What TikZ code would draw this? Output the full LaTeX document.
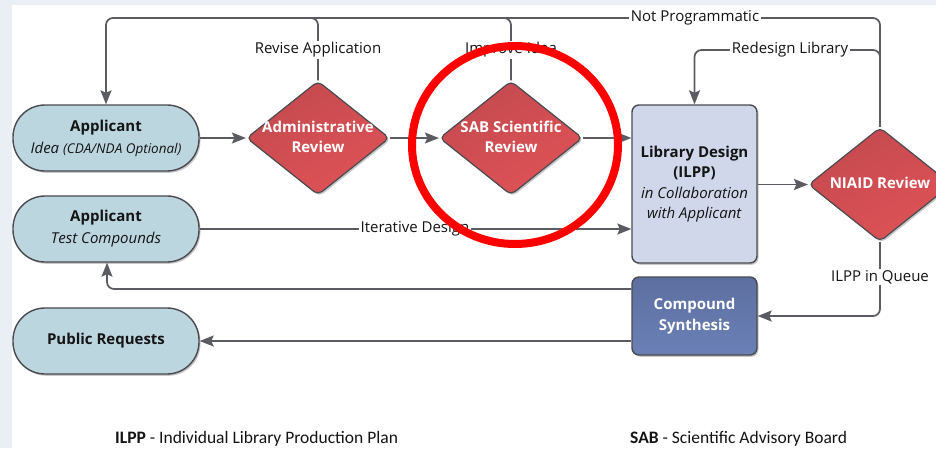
\documentclass[tikz,border=0pt]{standalone}
\usepackage{fontspec}
\setmainfont{Open Sans}
\newfontfamily\legendfont{Carlito}
\usetikzlibrary{shapes.geometric,arrows.meta,shadows,calc}

\definecolor{pagebg}{HTML}{EAEFF6}
\definecolor{linec}{HTML}{5B5B63}
\definecolor{borderc}{HTML}{4A4A50}
\definecolor{txtc}{HTML}{141414}
\definecolor{appfill}{HTML}{BCD6E0}
\definecolor{dfillA}{HTML}{C44A4F}
\definecolor{dfillB}{HTML}{DE5256}
\definecolor{libfill}{HTML}{D1D7EA}
\definecolor{synA}{HTML}{5D6FA0}
\definecolor{synB}{HTML}{6A80B6}
\definecolor{markred}{HTML}{FF0000}

% centred multi-line text that does not widen the shape around it
\newcommand{\flattxt}[1]{\makebox[0pt]{\begin{tabular}{@{}c@{}}#1\end{tabular}}}

\tikzset{
  conn/.style={draw=linec, line width=1.7pt, rounded corners=7pt},
  arr/.style={conn, -{Stealth[length=14pt,width=11pt,inset=2.5pt]}},
  shade/.style={drop shadow={shadow xshift=1.5pt, shadow yshift=-1.8pt, opacity=0.22, fill=black}},
  appbox/.style={shade, draw=borderc, line width=1.4pt, fill=appfill,
    rounded corners=32pt, minimum width=186pt, minimum height=66pt,
    align=center, text=txtc, inner sep=0pt, font=\fontsize{15}{22}\selectfont},
  decision/.style={shade, diamond, draw=borderc, line width=1.2pt,
    left color=dfillA, right color=dfillB, shading angle=30,
    minimum width=143pt, minimum height=114pt, rounded corners=5pt,
    inner sep=0pt, text=white, font=\bfseries\fontsize{15}{20}\selectfont},
  process/.style={shade, draw=borderc, line width=1.4pt, rounded corners=7pt,
    minimum width=125pt, align=center, inner sep=0pt},
  lbl/.style={fill=white, inner sep=1.5pt, text=txtc, font=\fontsize{15}{17}\selectfont},
  legend/.style={anchor=base west, inner sep=0pt, text=txtc, font=\legendfont\fontsize{17.5}{20}\selectfont},
}

\begin{document}
\begin{tikzpicture}[x=1pt,y=-1pt]
  \useasboundingbox (0,0) rectangle (936,448);
  \clip (0,0) rectangle (936,448);

  % page background
  \fill[pagebg] (0,0) rectangle (936,448);
  \fill[white] (12,5) rectangle (936,448);

  % applicant side
  \node[appbox] (idea) at (106,138)
    {\textbf{Applicant}\\
     \textit{Idea {\fontsize{13.5}{15}\selectfont (CDA/NDA Optional)}}};
  \node[appbox] (test) at (106,229)
    {\textbf{Applicant}\\ \textit{Test Compounds}};
  \node[appbox] (pub) at (106,341) {\textbf{Public Requests}};

  % review steps
  \node[decision] (adm) at (318,138) {\flattxt{Administrative\\Review}};
  \node[decision] (sab) at (511,138) {\flattxt{SAB Scientific\\Review}};
  \node[decision] (niaid) at (880,184.5) {\flattxt{NIAID Review}};

  % library design and synthesis
  \node[process, fill=libfill, minimum height=158pt, text=txtc,
        font=\fontsize{15}{20.5}\selectfont] (lib) at (694.5,184)
    {\textbf{Library Design}\\ \textbf{(ILPP)}\\
     \textit{in Collaboration}\\ \textit{with Applicant}};
  \node[process, top color=synA, bottom color=synB, minimum height=78pt, text=white,
        font=\bfseries\fontsize{15}{21}\selectfont] (syn) at (694.5,316)
    {Compound\\ Synthesis};

  % main flow
  \draw[arr] (idea.east) -- (adm.west);
  \draw[arr] (adm.east) -- (sab.west);
  \draw[arr] (sab.east) -- (lib.west |- sab.east);
  \draw[arr] (lib.east |- niaid.west) -- (niaid.west);

  % feedback loops back to the applicant
  \draw[arr] (niaid.north) |- (150,18) -| (idea.north);
  \draw[conn] (adm.north) |- (250,18);
  \draw[conn] (sab.north) |- (450,18);
  \node[lbl] (notprog) at (695,18) {Not Programmatic};
  \node[lbl] (revise) at (318,50) {Revise Application};
  \node[lbl] (improve) at (511,50) {Improve Idea};

  % redesign loop
  \coordinate (rdj) at (880,64);
  \draw[arr] (rdj) -- (880,50) -| (lib.north);
  \node[lbl] (redesign) at (790,50) {Redesign Library};

  % iterative design
  \draw[arr] (test.east) -- (lib.west |- test.east);
  \node[lbl] (iter) at (415,229) {Iterative Design};

  % queue to synthesis and results
  \draw[arr] (niaid.south) |- (syn.east);
  \node[lbl] (queue) at (880,277) {ILPP in Queue};
  \draw[arr] ($(syn.west)+(0,-27)$) -| ($(test.south)+(1,0)$);
  \draw[arr] (syn.west |- pub.east) -- (pub.east);

  % highlight ring
  \draw[markred, line width=8pt] (515,145) ellipse [x radius=103pt, y radius=99pt];

  % legend
  \node[legend] (leg1) at (115,443) {\textbf{ILPP} - Individual Library Production Plan};
  \node[legend] (leg2) at (630,443) {\textbf{SAB} - Scientific Advisory Board};
\end{tikzpicture}
\end{document}
